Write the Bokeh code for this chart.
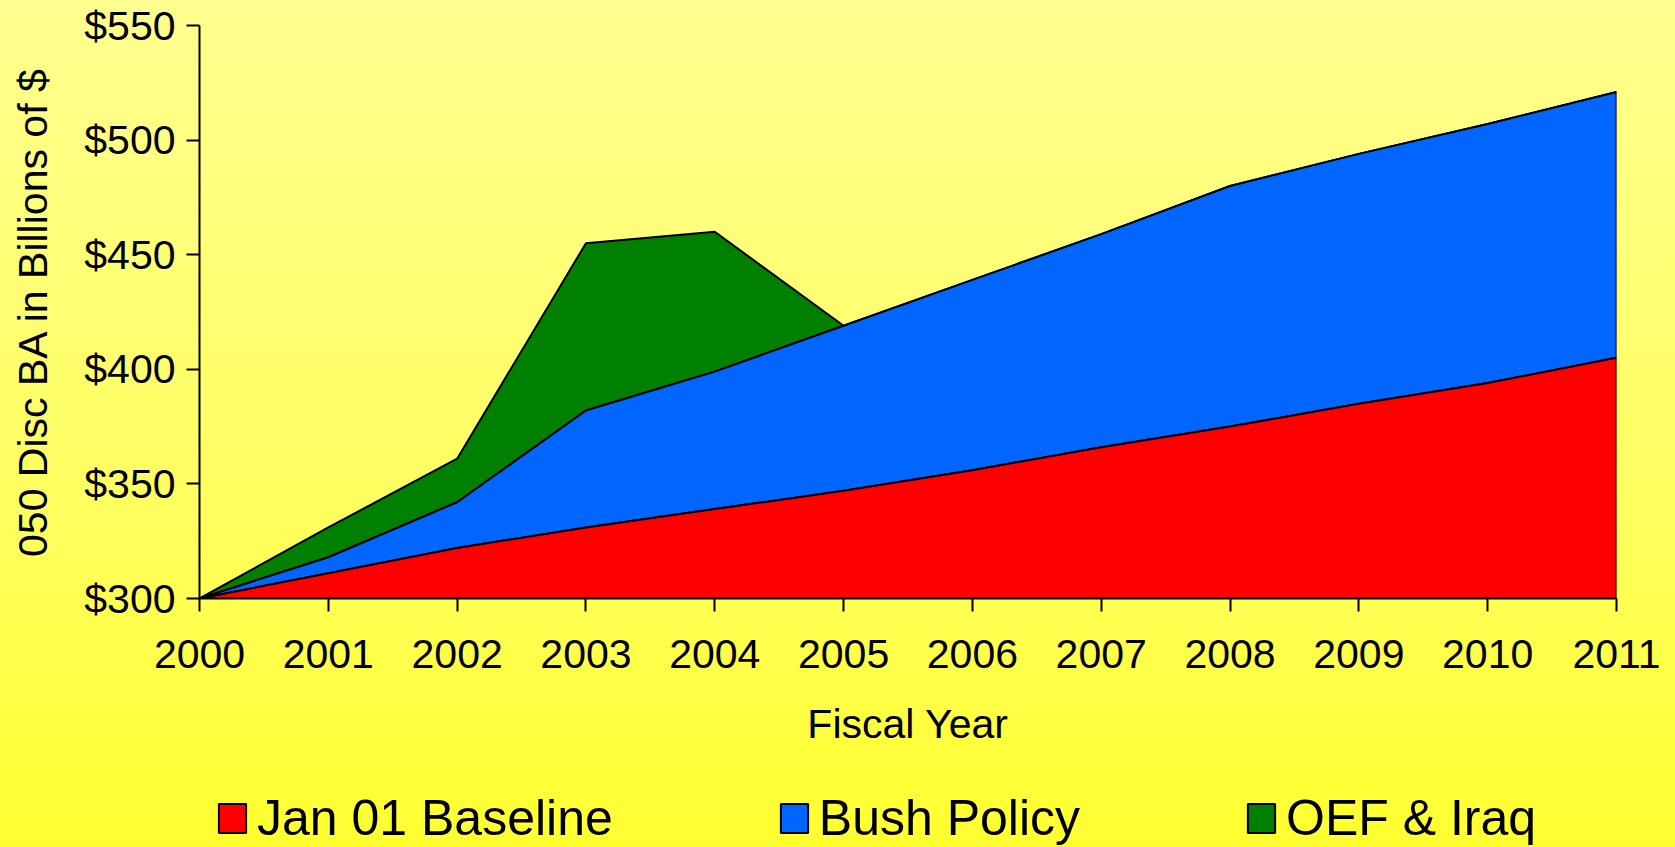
from bokeh.plotting import figure
from bokeh.models import Range1d, FixedTicker, Legend, LegendItem
from bokeh.layouts import column
from bokeh.embed import file_html
from bokeh.resources import INLINE

# ---- data ----
years = [2000, 2001, 2002, 2003, 2004, 2005, 2006, 2007, 2008, 2009, 2010, 2011]
baseline = [300, 311, 322, 331, 339, 347, 356, 366, 375, 385, 394, 405]        # Jan 01 Baseline (top of red)
bush_policy = [300, 318, 342, 382, 399, 419, 439, 459, 480, 494, 507, 521]     # Bush Policy (top of blue)
oef_iraq = [300, 331, 361, 455, 460, 419, 439, 459, 480, 494, 507, 521]        # OEF & Iraq (top of green)
y_ticks = [300, 350, 400, 450, 500, 550]
y_tick_labels = ["$300", "$350", "$400", "$450", "$500", "$550"]
x_tick_labels = [str(y) for y in years]
series_names = ["Jan 01 Baseline", "Bush Policy", "OEF & Iraq"]
series_colors = ["#FF0000", "#0066FF", "#008000"]
x_title = "Fiscal Year"
y_title = "050 Disc BA in Billions of $"

FONT = "Liberation Sans"
W = 1675
H_MAIN = 780
H_LEG = 847 - H_MAIN

p = figure(width=W, height=H_MAIN, output_backend="svg", toolbar_location=None,
           x_range=Range1d(years[0], years[-1]), y_range=Range1d(y_ticks[0], y_ticks[-1]),
           min_border_left=199, min_border_right=59, min_border_top=25, min_border_bottom=H_MAIN - 598)
p.background_fill_alpha = 0
p.border_fill_alpha = 0
p.outline_line_alpha = 0
p.grid.visible = False

floor = [y_ticks[0]] * len(years)
layers = [
    (oef_iraq, bush_policy, series_colors[2]),
    (bush_policy, baseline, series_colors[1]),
    (baseline, floor, series_colors[0]),
]
for top, bottom, col in layers:
    p.patch(years + years[::-1], top + bottom[::-1],
            fill_color=col, line_color="black", line_width=2)

# axes
for ax in (p.xaxis[0], p.yaxis[0]):
    ax.axis_line_color = "black"
    ax.axis_line_width = 2
    ax.major_tick_line_color = "black"
    ax.major_tick_line_width = 2
    ax.major_tick_in = 0
    ax.major_tick_out = 13
    ax.minor_tick_line_color = None
    ax.major_label_text_font = FONT
    ax.major_label_text_font_size = "41px"
    ax.major_label_text_color = "black"
    ax.axis_label_text_font = FONT
    ax.axis_label_text_font_size = "41px"
    ax.axis_label_text_font_style = "normal"
    ax.axis_label_text_color = "black"

p.xaxis.ticker = FixedTicker(ticks=years)
p.xaxis.major_label_overrides = dict(zip(years, x_tick_labels))
p.xaxis.major_label_standoff = 28
p.xaxis.axis_label = x_title
p.xaxis.axis_label_standoff = 30

p.yaxis.ticker = FixedTicker(ticks=y_ticks)
p.yaxis.major_label_standoff = 11
p.yaxis.major_label_overrides = dict(zip(y_ticks, y_tick_labels))
p.yaxis.axis_label = y_title
p.yaxis.axis_label_standoff = 25

# ---- legend strip (a second figure holding only the legend) ----
pl = figure(width=W, height=H_LEG, output_backend="svg", toolbar_location=None,
            x_range=Range1d(0, 1), y_range=Range1d(0, 1),
            min_border=0, min_border_left=0, min_border_right=0,
            min_border_top=0, min_border_bottom=0)
pl.axis.visible = False
pl.grid.visible = False
pl.background_fill_alpha = 0
pl.border_fill_alpha = 0
pl.outline_line_alpha = 0
leg_rends = []
for col in series_colors:
    # same series shapes, outside this strip's ranges: only their legend swatches show
    leg_rends.append(pl.patch(years + years[::-1], oef_iraq + floor,
                              fill_color=col, line_color="black", line_width=2))

legend = Legend(items=[LegendItem(label=n, renderers=[r]) for n, r in zip(series_names, leg_rends)],
                orientation="horizontal", location=(16, 0))
legend.label_text_font = FONT
legend.label_text_font_size = "50px"
legend.label_text_color = "black"
legend.glyph_width = 34
legend.glyph_height = 36
legend.label_standoff = 8
legend.spacing = 164
legend.padding = 0
legend.margin = 0
legend.background_fill_alpha = 0
legend.border_line_alpha = 0
pl.add_layout(legend, "center")

lay = column(p, pl, spacing=0)
lay.styles = {"background": "linear-gradient(to bottom, #FFFF90 0%, #FFFF60 60%, #FFFF30 100%)"}

open("out.html", "w").write(file_html(lay, INLINE))
